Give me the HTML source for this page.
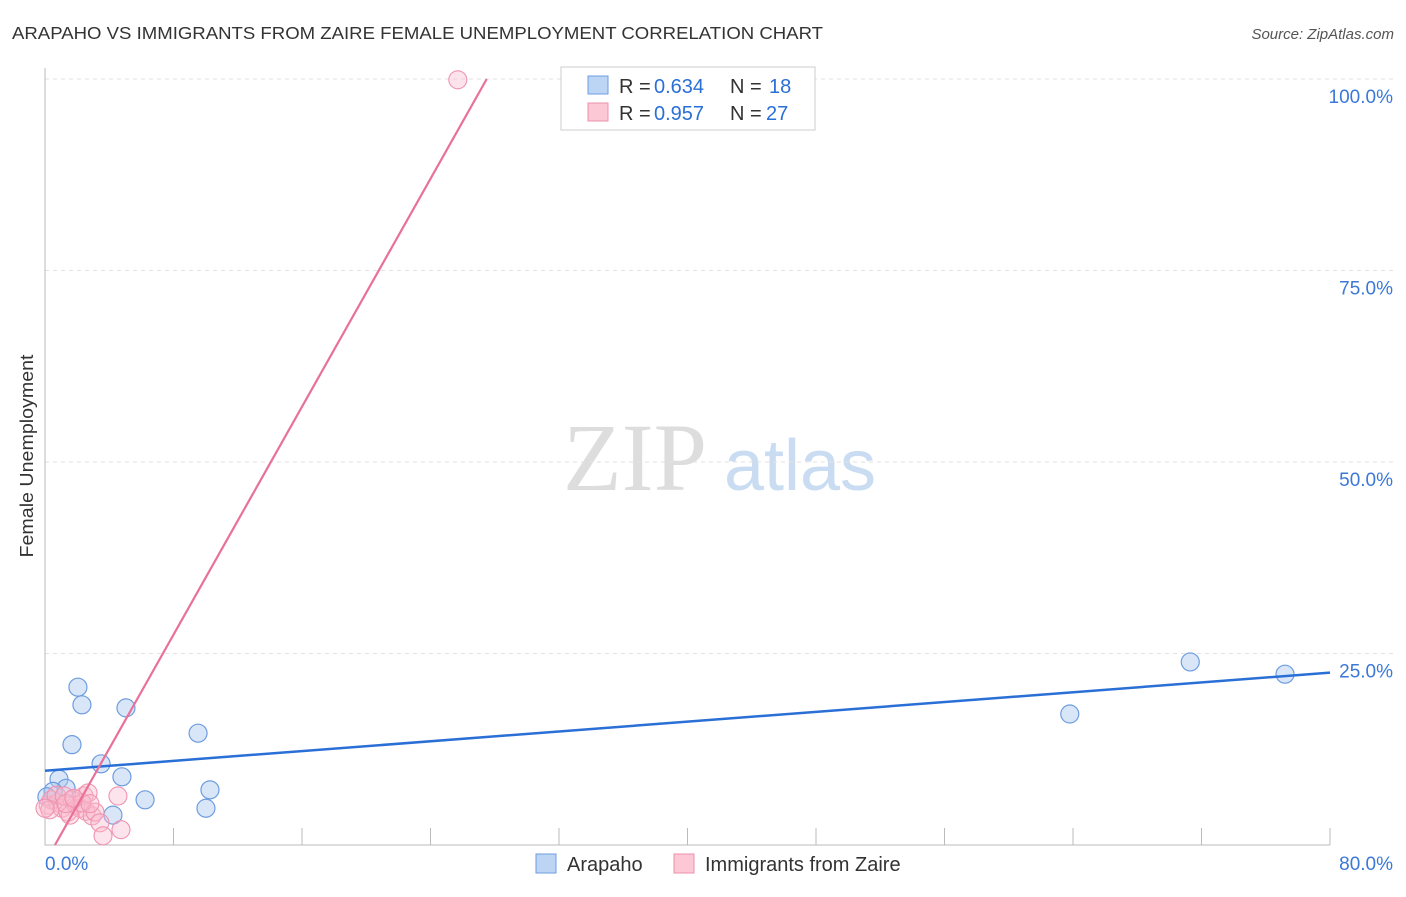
<!DOCTYPE html>
<html><head><meta charset="utf-8"><style>
body{margin:0;background:#fff;font-family:"Liberation Sans",sans-serif}
</style></head><body>
<svg width="1406" height="892" viewBox="0 0 1406 892" xmlns="http://www.w3.org/2000/svg" font-family="Liberation Sans, sans-serif">
<text x="12" y="39" font-size="17.5" fill="#333" textLength="811" lengthAdjust="spacingAndGlyphs">ARAPAHO VS IMMIGRANTS FROM ZAIRE FEMALE UNEMPLOYMENT CORRELATION CHART</text>
<text x="1394" y="39" font-size="15" fill="#555" font-style="italic" text-anchor="end">Source: ZipAtlas.com</text>
<text x="33" y="456" font-size="18" fill="#333" text-anchor="middle" textLength="203" lengthAdjust="spacingAndGlyphs" transform="rotate(-90 33 456)">Female Unemployment</text>
<g><text x="635" y="490" font-size="96" fill="#ddd" font-family="Liberation Serif, serif" text-anchor="middle">ZIP</text><text x="800" y="490" font-size="72" fill="#c9dcf2" text-anchor="middle">atlas</text></g>
<g id="grid"></g><g id="axes"></g><g id="marks"></g>
<g>
<rect x="561" y="67" width="254" height="63" fill="#fff" stroke="#ccc"/>
<rect x="588" y="76" width="20" height="18" fill="#bcd5f5" stroke="#6d9de0"/>
<rect x="588" y="103" width="20" height="18" fill="#fcc8d6" stroke="#ee8fab"/>
<text x="619" y="93" font-size="20" fill="#333">R = </text><text x="654" y="93" font-size="20" fill="#2a6fd6">0.634</text>
<text x="730" y="93" font-size="20" fill="#333">N = </text><text x="769" y="93" font-size="20" fill="#2a6fd6">18</text>
<text x="619" y="120" font-size="20" fill="#333">R = </text><text x="654" y="120" font-size="20" fill="#2a6fd6">0.957</text>
<text x="730" y="120" font-size="20" fill="#333">N = </text><text x="766" y="120" font-size="20" fill="#2a6fd6">27</text>
</g>
<g>
<rect x="536" y="854" width="20" height="19" fill="#bcd5f5" stroke="#6d9de0"/>
<text x="567" y="871" font-size="20" fill="#333">Arapaho</text>
<rect x="674" y="854" width="20" height="19" fill="#fcc8d6" stroke="#ee8fab"/>
<text x="705" y="871" font-size="20" fill="#333">Immigrants from Zaire</text>
</g>
</svg>
<script>
const yTicks=[25,50,75,100];
const yTickLabels=["25.0%","50.0%","75.0%","100.0%"];
const blueX=[2.05,2.3,5.04,1.68,9.53,3.49,0.87,1.31,4.79,0.5,0.12,6.23,10.27,10.02,4.23,71.3,77.2,63.8];
const blueY=[20.6,18.3,17.9,13.1,14.6,10.6,8.6,7.4,8.9,7.0,6.3,5.9,7.2,4.8,3.9,23.9,22.3,17.1];
const pinkX=[25.7,0.2,0.4,0.8,1.06,1.43,1.68,1.93,2.18,2.43,2.55,2.68,2.93,3.11,3.42,3.61,4.54,4.73,0.7,1.2,1.56,2.3,0.3,0,1.3,1.8,2.8];
const pinkY=[99.9,5.2,5.9,5.5,4.8,4.3,5.9,5.2,4.8,6.4,4.4,6.8,3.8,4.3,2.9,1.2,6.4,2.0,6.5,6.4,3.9,5.5,4.6,4.8,5.4,6.1,5.4];
const blueTrend=[9.7,22.5];
const pinkTrend=[0.62,27.5];
const NS="http://www.w3.org/2000/svg";
const xs=v=>45+v/80*1285, ys=v=>845-v/100*766;
function mk(t,a,p){const e=document.createElementNS(NS,t);for(const k in a)e.setAttribute(k,a[k]);p.appendChild(e);return e;}
const grid=document.getElementById('grid'),axes=document.getElementById('axes'),marks=document.getElementById('marks');
yTicks.forEach((t,i)=>{
 const l=mk('line',{x1:45,x2:1394,y1:ys(t),y2:ys(t),stroke:'#e2e2e2','stroke-dasharray':'4,4'},grid);
 
 
 const tx=mk('text',{x:1393,y:ys(t)+24,'font-size':19,fill:'#3b78d8','text-anchor':'end'},axes);
 tx.textContent=yTickLabels[i];
 
 
});
const ax=mk('path',{d:'M45 68 V845 H1330',fill:'none',stroke:'#bbb'},axes);


for(let i=1;i<=10;i++){const t=mk('line',{x1:xs(i*8),x2:xs(i*8),y1:828,y2:845,stroke:'#bbb'},axes);
 
 }
[["0.0%",45,'start'],["80.0%",1393,'end']].forEach(d=>{const t=mk('text',{x:d[1],y:870,'font-size':19,fill:'#3b78d8','text-anchor':d[2]},axes);t.textContent=d[0];
 
 });
blueX.forEach((x,i)=>{const c=mk('circle',{cx:xs(x),cy:ys(blueY[i]),r:9,fill:'rgba(170,200,240,0.45)',stroke:'#6d9de0','stroke-width':1.2},marks);
 
 });
pinkX.forEach((x,i)=>{const c=mk('circle',{cx:xs(x),cy:ys(pinkY[i]),r:9,fill:'rgba(250,185,205,0.4)',stroke:'#ef94b0','stroke-width':1.1},marks);
 
 });
const bl=mk('line',{x1:xs(0),y1:ys(blueTrend[0]),x2:xs(80),y2:ys(blueTrend[1]),stroke:'#2a6fd6','stroke-width':2.5},marks);


const pl=mk('line',{x1:xs(pinkTrend[0]),y1:ys(0),x2:xs(pinkTrend[1]),y2:ys(100),stroke:'#e8709a','stroke-width':2.2},marks);


</script>
</body></html>
